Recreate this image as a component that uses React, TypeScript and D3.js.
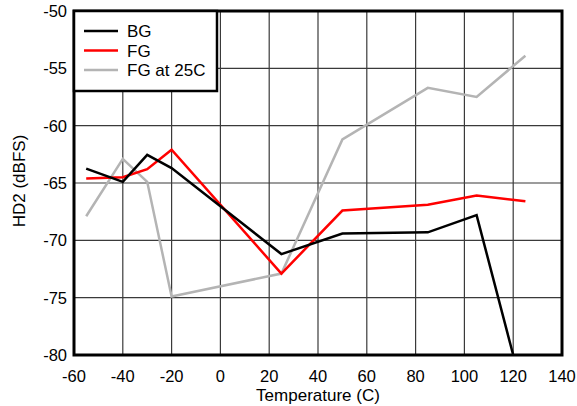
import React from "react";
import * as d3 from "d3";

const bgTemps = [-55, -40, -30, -20, 25, 50, 85, 105, 120];
const bgValues = [-63.75, -64.9, -62.55, -63.7, -71.2, -69.4, -69.3, -67.8, -80];
const fgTemps = [-55, -40, -30, -20, 25, 50, 85, 105, 125];
const fgValues = [-64.6, -64.5, -63.8, -62.1, -72.9, -67.4, -66.9, -66.1, -66.6];
const fg25Temps = [-55, -40, -30, -20, 25, 50, 85, 105, 125];
const fg25Values = [-67.9, -62.9, -64.9, -74.9, -72.9, -61.2, -56.7, -57.5, -53.9];
const xTicks = [-60, -40, -20, 0, 20, 40, 60, 80, 100, 120, 140];
const yTicks = [-80, -75, -70, -65, -60, -55, -50];
const seriesNames = ["BG", "FG", "FG at 25C"];
const seriesColors = ["#000000", "#ff0000", "#b4b4b4"];

export default function App() {
  const W = 577, H = 406;
  const left = 74, right = 562, top = 11, bottom = 355;
  const x = d3.scaleLinear().domain([-60, 140]).range([left, right]);
  const y = d3.scaleLinear().domain([-80, -50]).range([bottom, top]);
  const line = d3.line<[number, number]>().x(d => x(d[0])).y(d => y(d[1]));
  const series: [number, number][][] = [
    bgTemps.map((t, i) => [t, bgValues[i]]),
    fgTemps.map((t, i) => [t, fgValues[i]]),
    fg25Temps.map((t, i) => [t, fg25Values[i]]),
  ];
  const font = "'Liberation Sans', Arial, sans-serif";
  return (
    <svg width={W} height={H} style={{ position: "absolute", left: 0, top: 0 }} fontFamily={font}>
      <rect width={W} height={H} fill="#fff" />
      {xTicks.map(t => (
        <line key={"gx" + t} x1={x(t)} x2={x(t)} y1={top} y2={bottom} stroke="#3a3a3a" strokeWidth={1.2} />
      ))}
      {yTicks.map(t => (
        <line key={"gy" + t} x1={left} x2={right} y1={y(t)} y2={y(t)} stroke="#3a3a3a" strokeWidth={1.2} />
      ))}
      <defs>
        <clipPath id="plot">
          <rect x={left} y={top} width={right - left} height={bottom - top} />
        </clipPath>
      </defs>
      <g clipPath="url(#plot)">
        {[2, 1, 0].map(i => (
          <path key={i} d={line(series[i]) || ""} fill="none" stroke={seriesColors[i]} strokeWidth={2.5} strokeLinejoin="miter" />
        ))}
      </g>
      <rect x={left} y={top} width={right - left} height={bottom - top} fill="none" stroke="#000" strokeWidth={3} />
      <rect x={left} y={top} width={217 - left} height={91 - top} fill="#fff" stroke="#000" strokeWidth={2.5} />
      {seriesNames.map((n, i) => (
        <g key={n}>
          <line x1={84} x2={118} y1={31 + i * 19.5} y2={31 + i * 19.5} stroke={seriesColors[i]} strokeWidth={2.5} />
          <text x={127} y={31 + i * 19.5 + 6} fontSize={17} fill="#000">{n}</text>
        </g>
      ))}
      {yTicks.map(t => (
        <text key={"ly" + t} x={67} y={y(t) + 6} textAnchor="end" fontSize={16.5} fill="#000">{t}</text>
      ))}
      {xTicks.map(t => (
        <text key={"lx" + t} x={x(t)} y={381.5} textAnchor="middle" fontSize={16.5} fill="#000">{t}</text>
      ))}
      <text x={318} y={400.5} textAnchor="middle" fontSize={17} fill="#000">Temperature (C)</text>
      <text transform={`translate(25,181) rotate(-90)`} textAnchor="middle" fontSize={17} fill="#000">HD2 (dBFS)</text>
    </svg>
  );
}
